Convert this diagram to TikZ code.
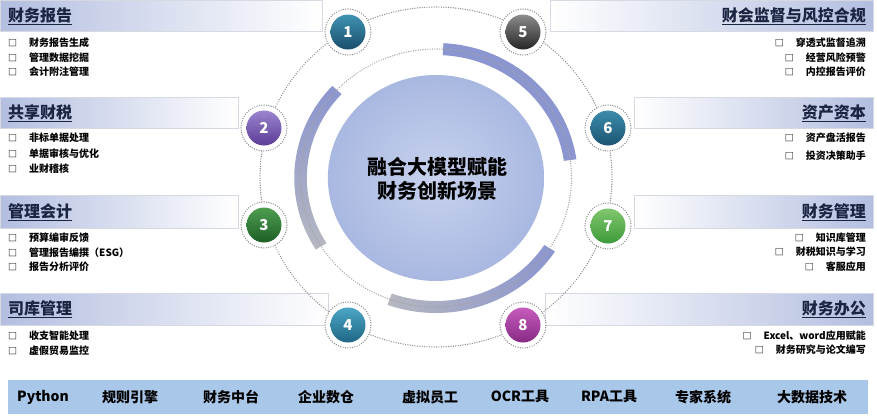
\documentclass[tikz,border=0pt]{standalone}
\usepackage{fontspec}
\setmainfont{Noto Sans CJK SC}
\usetikzlibrary{calc}
\definecolor{hdr}{HTML}{B3BEE0}
\definecolor{hdrline}{HTML}{D6D9E2}
\definecolor{titlec}{HTML}{1B2440}
\definecolor{arcblue}{HTML}{8B95CF}
\definecolor{arcgrey}{HTML}{B5B7C0}
\definecolor{ctrin}{HTML}{C8D2EE}
\definecolor{ctrout}{HTML}{A9B8E1}
\definecolor{dotc}{HTML}{8C8C8C}
\definecolor{barc}{HTML}{A9C7E8}
\tikzset{
  lhead/.style={left color=hdr, right color=white, draw=hdrline, line width=0.6pt},
  rhead/.style={left color=white, right color=hdr, draw=hdrline, line width=0.6pt},
  ltitle/.style={anchor=west, text=titlec, font=\fontsize{16}{16}\selectfont\bfseries, inner sep=0pt},
  rtitle/.style={anchor=east, text=titlec, font=\fontsize{16}{16}\selectfont\bfseries, inner sep=0pt},
  litem/.style={anchor=west, font=\fontsize{10}{10}\selectfont\bfseries, inner sep=0pt},
  ritem/.style={anchor=east, font=\fontsize{10}{10}\selectfont\bfseries, inner sep=0pt},
  dotline/.style={draw=dotc, line width=1.4pt, dash pattern=on 0pt off 2.4pt, line cap=round},
  ringdot/.style={dotline, fill=white},
  numc/.style={circle, minimum size=35pt, inner sep=0pt, text=white, font=\fontsize{15}{15}\selectfont\bfseries},
  baritem/.style={font=\fontsize{14}{14}\selectfont\bfseries, inner sep=0pt}
}
\newcommand{\sqb}{{\fontsize{9}{9}\selectfont □}\hspace{12pt}}
\begin{document}
\begin{tikzpicture}[x=1pt,y=1pt]
\useasboundingbox (0,0) rectangle (877,-418);
\fill[white] (0,0) rectangle (877,-418);

% ---------- panel headers ----------
\shade[lhead] (0,0) rectangle (322,-31);
\shade[lhead] (0,-97) rectangle (238,-128);
\shade[lhead] (0,-195) rectangle (238,-228);
\shade[lhead] (0,-293) rectangle (328,-325);
\shade[rhead] (550,0) rectangle (873,-31);
\shade[rhead] (634,-97) rectangle (873,-128);
\shade[rhead] (634,-195) rectangle (873,-228);
\shade[rhead] (545,-293) rectangle (873,-325);

% ---------- titles ----------
\node[ltitle] (t1) at (8,-16) {\underline{财务报告}};
\node[ltitle] (t2) at (8,-113) {\underline{共享财税}};
\node[ltitle] (t3) at (8,-212) {\underline{管理会计}};
\node[ltitle] (t4) at (8,-309) {\underline{司库管理}};
\node[rtitle] (t5) at (866,-16) {\underline{财会监督与风控合规}};
\node[rtitle] (t6) at (866,-113) {\underline{资产资本}};
\node[rtitle] (t7) at (866,-212) {\underline{财务管理}};
\node[rtitle] (t8) at (866,-309) {\underline{财务办公}};

% ---------- left items ----------
\node[litem] (a1) at (8,-43) {\sqb 财务报告生成};
\node[litem] (a2) at (8,-57.5) {\sqb 管理数据挖掘};
\node[litem] (a3) at (8,-72) {\sqb 会计附注管理};
\node[litem] (b1) at (8,-138) {\sqb 非标单据处理};
\node[litem] (b2) at (8,-154) {\sqb 单据审核与优化};
\node[litem] (b3) at (8,-169) {\sqb 业财稽核};
\node[litem] (c1) at (8,-238) {\sqb 预算编审反馈};
\node[litem] (c2) at (8,-253) {\sqb 管理报告编撰（ESG）};
\node[litem] (c3) at (8,-267) {\sqb 报告分析评价};
\node[litem] (d1) at (8,-336) {\sqb 收支智能处理};
\node[litem] (d2) at (8,-351) {\sqb 虚假贸易监控};

% ---------- right items ----------
\node[ritem] (e1) at (866,-43) {\sqb 穿透式监督追溯};
\node[ritem] (e2) at (866,-57.5) {\sqb 经营风险预警};
\node[ritem] (e3) at (866,-72) {\sqb 内控报告评价};
\node[ritem] (f1) at (866,-138) {\sqb 资产盘活报告};
\node[ritem] (f2) at (866,-156) {\sqb 投资决策助手};
\node[ritem] (g1) at (866,-238) {\sqb 知识库管理};
\node[ritem] (g2) at (866,-252) {\sqb 财税知识与学习};
\node[ritem] (g3) at (866,-267) {\sqb 客服应用};
\node[ritem] (h1) at (866,-336) {\sqb Excel、word应用赋能};
\node[ritem] (h2) at (866,-350) {\sqb 财务研究与论文编写};

% ---------- outer dotted ellipse ----------
\draw[dotline] (436,-177) ellipse [x radius=176, y radius=170];

% ---------- central structure ----------
\begin{scope}[shift={(436,-178)}, xscale=1.05]
  \shade[inner color=ctrin, outer color=ctrout] (0,0) circle (103);
  \shade[top color=arcblue, bottom color=arcgrey]
    (137:135) arc[start angle=137, end angle=212, radius=135]
    -- (212:123) arc[start angle=212, end angle=137, radius=123] -- cycle;
  \fill[arcblue]
    (87:135) arc[start angle=87, end angle=8, radius=135]
    -- (8:123) arc[start angle=8, end angle=87, radius=123] -- cycle;
  \shade[left color=arcgrey, right color=arcblue]
    (250:135) arc[start angle=250, end angle=327, radius=135]
    -- (327:123) arc[start angle=327, end angle=250, radius=123] -- cycle;
  \draw[dotline, draw=dotc!80] (0,0) circle (129);
\end{scope}
\node[font=\fontsize{20}{24}\selectfont\bfseries, align=center, text=black] (ctr) at (437,-179) {融合大模型赋能\\财务创新场景};

% ---------- numbered circles ----------
\foreach \nm/\px/\py/\ct/\cb in {
  1/348/32/3F93B2/1A4E6C,
  5/523/32/8C8C8C/262626,
  2/264/128/9C84CF/5B3D96,
  6/608/128/3C8CAC/1C5472,
  3/264/225/4E9E52/1E5E25,
  7/608/226/7FC66D/3E9A3A,
  4/348/325/4CA6C5/1E6684,
  8/523/325/C65CBC/882985} {
  \definecolor{ctop}{HTML}{\ct}
  \definecolor{cbot}{HTML}{\cb}
  \draw[ringdot] (\px,-\py) circle (23);
  \node[numc, top color=ctop, bottom color=cbot] (n\nm) at (\px,-\py) {\nm};
}

% ---------- bottom bar ----------
\fill[barc] (8,-380) rectangle (868,-414);
\node[baritem] (k1) at (43,-397) {Python};
\node[baritem] (k2) at (130,-397) {规则引擎};
\node[baritem] (k3) at (231,-397) {财务中台};
\node[baritem] (k4) at (326,-397) {企业数仓};
\node[baritem] (k5) at (430,-397) {虚拟员工};
\node[baritem] (k6) at (520,-397) {OCR工具};
\node[baritem] (k7) at (609,-397) {RPA工具};
\node[baritem] (k8) at (703,-397) {专家系统};
\node[baritem] (k9) at (812,-397) {大数据技术};
\end{tikzpicture}
\end{document}
